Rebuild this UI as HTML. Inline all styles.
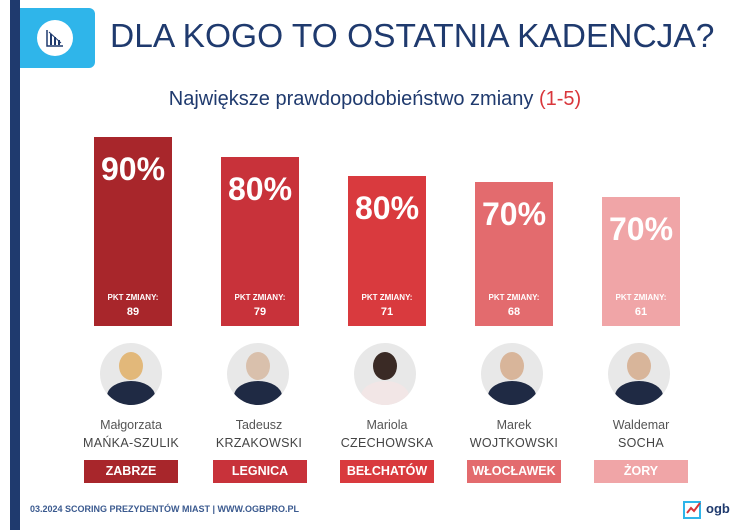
<!DOCTYPE html>
<html><head><meta charset="utf-8"><style>
body{margin:0;width:750px;height:530px;background:#fff;position:relative;overflow:hidden;font-family:"Liberation Sans",sans-serif}
.a{position:absolute}
.bar{position:absolute;width:78px;bottom:204px;color:#fff;text-align:center}
.pct{position:absolute;top:14px;left:0;right:0;font-size:32px;font-weight:bold}
.pk{position:absolute;bottom:6px;left:0;right:0;font-size:8px;font-weight:bold;line-height:14px}
.pk b{font-size:11px}
.ph{position:absolute;top:343px;width:62px;height:62px;border-radius:50%;background:#e8e8e8;overflow:hidden}
.ph i{position:absolute;left:19px;top:9px;width:24px;height:28px;border-radius:50%;background:#d8b59a}
.ph u{position:absolute;left:7px;top:38px;width:48px;height:30px;border-radius:50% 50% 0 0;background:#1f2a44}
.nm{position:absolute;top:416px;width:130px;text-align:center;font-size:12.5px;color:#555;line-height:18px}
.nm b{color:#444;font-weight:normal;letter-spacing:.3px}
.city{position:absolute;top:460px;width:94px;height:23px;line-height:23px;text-align:center;color:#fff;font-weight:bold;font-size:12.5px}
</style></head><body>
<div class="a" style="left:10px;top:0;width:10px;height:530px;background:#1f3a6e"></div>
<div class="a" style="left:20px;top:8px;width:75px;height:60px;background:#2fb5ea;border-radius:0 6px 6px 0"></div>
<div class="a" style="left:37px;top:20px;width:36px;height:36px;border-radius:50%;background:#fff"></div>
<svg class="a" style="left:45px;top:28px" width="20" height="20"><path d="M2 2v16h16" stroke="#1f3a6e" fill="none" stroke-width="1.5"/><rect x="5" y="6" width="2" height="11" fill="#1f3a6e"/><rect x="9" y="9" width="2" height="8" fill="#1f3a6e"/><rect x="13" y="12" width="2" height="5" fill="#1f3a6e"/><path d="M4 4l12 11" stroke="#1f3a6e"/></svg>
<div class="a" style="left:110px;top:18px;font-size:33.5px;color:#1f3a6e;white-space:nowrap">DLA KOGO TO OSTATNIA KADENCJA?</div>
<div class="a" style="left:0;width:750px;top:88px;text-align:center;font-size:20px;color:#1f3a6e">Największe prawdopodobieństwo zmiany <span style="color:#d9363b">(1-5)</span></div>

<div class="bar" style="left:94px;height:189px;background:#a8262b"><div class="pct">90%</div><div class="pk">PKT ZMIANY:<br><b>89</b></div></div>
<div class="bar" style="left:221px;height:169px;background:#c8323a"><div class="pct">80%</div><div class="pk">PKT ZMIANY:<br><b>79</b></div></div>
<div class="bar" style="left:348px;height:150px;background:#d93a3e"><div class="pct">80%</div><div class="pk">PKT ZMIANY:<br><b>71</b></div></div>
<div class="bar" style="left:475px;height:144px;background:#e36b6e"><div class="pct">70%</div><div class="pk">PKT ZMIANY:<br><b>68</b></div></div>
<div class="bar" style="left:602px;height:129px;background:#f0a5a7"><div class="pct">70%</div><div class="pk">PKT ZMIANY:<br><b>61</b></div></div>

<div class="ph" style="left:100px"><i style="background:#e2b87a"></i><u></u></div>
<div class="ph" style="left:227px"><i style="background:#d9c0ac"></i><u></u></div>
<div class="ph" style="left:354px"><i style="background:#3a2a25"></i><u style="background:#f2e6e6"></u></div>
<div class="ph" style="left:481px"><i></i><u></u></div>
<div class="ph" style="left:608px"><i></i><u></u></div>

<div class="nm" style="left:66px">Małgorzata<br><b>MAŃKA-SZULIK</b></div>
<div class="nm" style="left:194px">Tadeusz<br><b>KRZAKOWSKI</b></div>
<div class="nm" style="left:322px">Mariola<br><b>CZECHOWSKA</b></div>
<div class="nm" style="left:449px">Marek<br><b>WOJTKOWSKI</b></div>
<div class="nm" style="left:576px">Waldemar<br><b>SOCHA</b></div>

<div class="city" style="left:84px;background:#a8262b">ZABRZE</div>
<div class="city" style="left:213px;background:#c8323a">LEGNICA</div>
<div class="city" style="left:340px;background:#d93a3e">BEŁCHATÓW</div>
<div class="city" style="left:467px;background:#e36b6e">WŁOCŁAWEK</div>
<div class="city" style="left:594px;background:#f0a5a7">ŻORY</div>

<div class="a" style="left:30px;top:504px;font-size:9px;font-weight:bold;color:#3b5a8f">03.2024 SCORING PREZYDENTÓW MIAST | WWW.OGBPRO.PL</div>
<svg class="a" style="left:682px;top:498px" width="22" height="22"><rect x="2" y="4" width="16" height="16" fill="none" stroke="#2fb5ea" stroke-width="2"/><path d="M5 15l4-5 3 3 6-8" stroke="#d9363b" stroke-width="2" fill="none"/></svg>
<div class="a" style="left:706px;top:501px;font-size:13px;font-weight:bold;color:#1f3a6e">ogb</div>
</body></html>
